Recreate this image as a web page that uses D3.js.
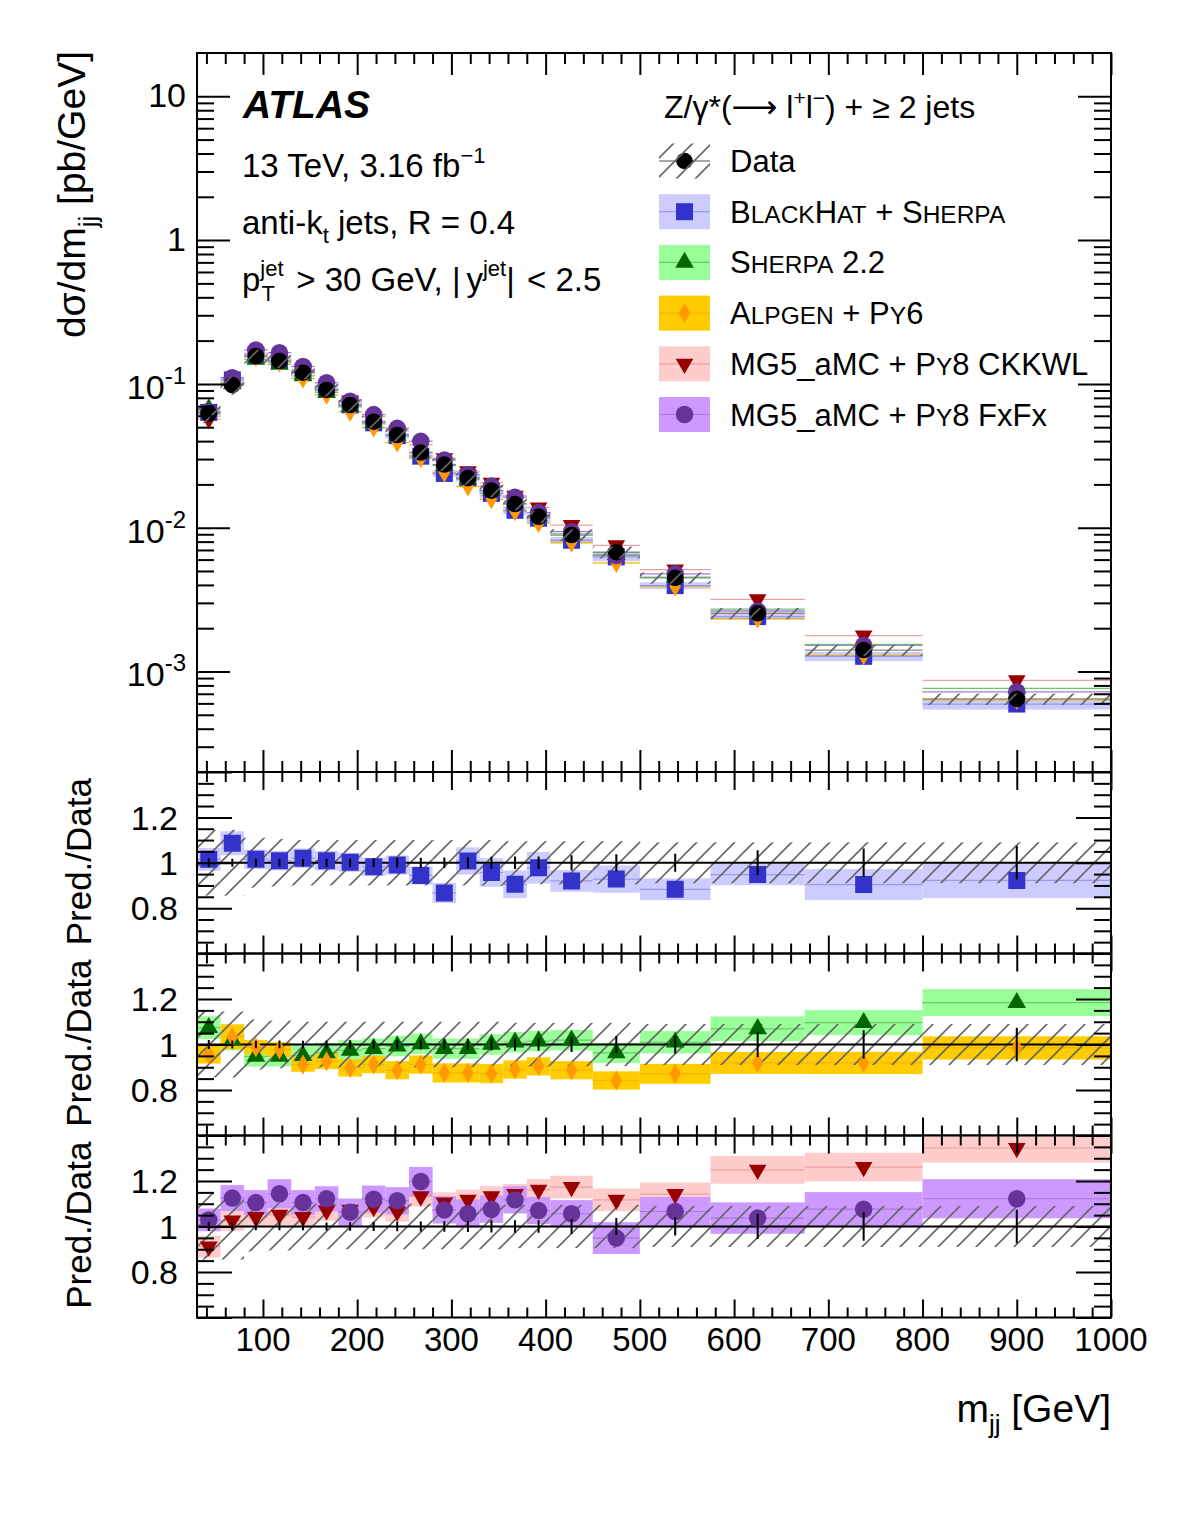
<!DOCTYPE html>
<html>
<head>
<meta charset="utf-8">
<script src="https://cdn.jsdelivr.net/npm/d3@7"></script>
<style>
body { margin: 0; background: #fff; }
svg text { font-family: "Liberation Sans", Arial, Helvetica, sans-serif; fill: #000; }
</style>
</head>
<body>
<svg id="chart" width="1182" height="1515"></svg>
<script>
// m_jj bin edges [GeV]
const binEdges = [30, 55, 80, 105, 130, 155, 180, 205, 230, 255, 280, 305, 330, 355, 380, 405, 450, 500, 575, 675, 800, 1000];
// measured cross section dsigma/dm_jj [pb/GeV]
const dataXsec = [0.0624, 0.0982, 0.156, 0.1442, 0.1196, 0.0907, 0.0713, 0.0546, 0.0441, 0.0333, 0.0275, 0.0221, 0.0181, 0.0146, 0.0119, 0.00889, 0.00675, 0.00448, 0.00254, 0.00141, 0.000644];
// relative stat (error bars) and total (hatched) uncertainties
const dataStat = [0.02, 0.018, 0.016, 0.016, 0.017, 0.018, 0.019, 0.02, 0.021, 0.022, 0.023, 0.024, 0.026, 0.027, 0.028, 0.033, 0.037, 0.04, 0.055, 0.063, 0.074];
const dataUnc = [0.145, 0.145, 0.11, 0.105, 0.1, 0.1, 0.1, 0.1, 0.1, 0.1, 0.1, 0.1, 0.1, 0.095, 0.095, 0.095, 0.095, 0.09, 0.09, 0.09, 0.09];

// prediction / data ratios and their band half-widths
const ratioBlackHat = [1.015, 1.086, 1.015, 1.009, 1.02, 1.009, 1.002, 0.982, 0.99, 0.944, 0.867, 1.008, 0.957, 0.905, 0.978, 0.92, 0.928, 0.883, 0.948, 0.904, 0.922];
const errBlackHat = [0.05, 0.053, 0.043, 0.043, 0.043, 0.043, 0.042, 0.04, 0.042, 0.04, 0.044, 0.06, 0.063, 0.061, 0.07, 0.048, 0.06, 0.048, 0.047, 0.068, 0.078];
const ratioSherpa = [1.074, 1.019, 0.948, 0.948, 0.951, 0.963, 0.974, 0.982, 0.993, 1.003, 0.982, 0.982, 1.0, 1.01, 1.015, 1.019, 0.963, 1.01, 1.069, 1.096, 1.184];
const errSherpa = [0.05, 0.045, 0.045, 0.045, 0.045, 0.045, 0.045, 0.045, 0.045, 0.045, 0.045, 0.045, 0.045, 0.045, 0.045, 0.045, 0.045, 0.049, 0.054, 0.055, 0.059];
const ratioAlpgen = [0.956, 1.034, 0.988, 0.978, 0.912, 0.926, 0.897, 0.912, 0.887, 0.912, 0.875, 0.875, 0.872, 0.89, 0.904, 0.887, 0.842, 0.871, 0.919, 0.919, 0.985];
const errAlpgen = [0.04, 0.055, 0.032, 0.032, 0.032, 0.034, 0.038, 0.038, 0.04, 0.04, 0.042, 0.042, 0.042, 0.04, 0.04, 0.04, 0.04, 0.044, 0.048, 0.049, 0.051];
const ratioCkkwl = [0.912, 1.026, 1.041, 1.051, 1.041, 1.07, 1.073, 1.085, 1.066, 1.132, 1.105, 1.117, 1.132, 1.142, 1.161, 1.173, 1.117, 1.142, 1.249, 1.261, 1.345];
const errCkkwl = [0.048, 0.045, 0.045, 0.045, 0.045, 0.045, 0.045, 0.045, 0.045, 0.045, 0.045, 0.045, 0.045, 0.045, 0.048, 0.05, 0.05, 0.051, 0.061, 0.063, 0.064];
const ratioFxfx = [1.029, 1.125, 1.105, 1.144, 1.105, 1.122, 1.063, 1.12, 1.113, 1.198, 1.073, 1.056, 1.076, 1.117, 1.07, 1.056, 0.949, 1.066, 1.037, 1.076, 1.122];
const errFxfx = [0.05, 0.057, 0.055, 0.064, 0.055, 0.055, 0.06, 0.06, 0.06, 0.064, 0.06, 0.06, 0.06, 0.06, 0.06, 0.06, 0.07, 0.064, 0.069, 0.075, 0.086];

const xMajorTicks = [100, 200, 300, 400, 500, 600, 700, 800, 900, 1000];
const ratioTickLabels = [0.8, 1, 1.2];
const mainTickLabels = [[10, '10', ''], [1, '1', ''], [0.1, '10', '-1'], [0.01, '10', '-2'], [0.001, '10', '-3']];

const models = [
    { ratio: ratioBlackHat, err: errBlackHat, panel: 0, symbol: d3.symbolSquare, size: 289, rot: 0, marker: '#3333cc', band: '#ccccff', line: '#9999ee',
      label: [['B', 1], ['LACK', 0], ['H', 1], ['AT', 0], [' + ', 1], ['S', 1], ['HERPA', 0]] },
    { ratio: ratioSherpa, err: errSherpa, panel: 1, symbol: d3.symbolTriangle, size: 150, rot: 0, marker: '#006600', band: '#99ff99', line: '#66cc66',
      label: [['S', 1], ['HERPA', 0], [' 2.2', 1]] },
    { ratio: ratioAlpgen, err: errAlpgen, panel: 1, symbol: d3.symbolDiamond, size: 115, rot: 0, marker: '#ff9900', band: '#ffcc00', line: '#f5b400',
      label: [['A', 1], ['LPGEN', 0], [' + ', 1], ['P', 1], ['Y', 0], ['6', 1]] },
    { ratio: ratioCkkwl, err: errCkkwl, panel: 2, symbol: d3.symbolTriangle, size: 135, rot: 180, marker: '#990000', band: '#ffcccc', line: '#ee9f9f',
      label: [['MG5_aMC + ', 1], ['P', 1], ['Y', 0], ['8 CKKWL', 1]] },
    { ratio: ratioFxfx, err: errFxfx, panel: 2, symbol: d3.symbolCircle, size: 240, rot: 0, marker: '#663399', band: '#cc99ff', line: '#aa77dd',
      label: [['MG5_aMC + ', 1], ['P', 1], ['Y', 0], ['8 FxFx', 1]] }
];

const svg = d3.select('#chart');
const left = 197, right = 1111;
const mainTop = 53, mainBottom = 772;
const ratioPanels = [[772, 953.5], [953.5, 1135.5], [1135.5, 1317.5]];

const x = d3.scaleLinear().domain([30, 1000]).range([left, right]);
const yMain = d3.scaleLog().domain([2e-4, 20]).range([mainBottom, mainTop]);
const centers = binEdges.slice(0, -1).map((lo, i) => (lo + binEdges[i + 1]) / 2);
const binX = i => x(binEdges[i]);
const binW = i => x(binEdges[i + 1]) - x(binEdges[i]);

const defs = svg.append('defs');
const hatch = defs.append('pattern').attr('id', 'hatch')
    .attr('patternUnits', 'userSpaceOnUse').attr('width', 19).attr('height', 19);
hatch.append('path').attr('d', 'M0,19 L19,0 M-4,4 L4,-4 M15,23 L23,15')
    .attr('stroke', '#666').attr('stroke-width', 1.6);

function addClip(id, top, bottom) {
    defs.append('clipPath').attr('id', id).append('rect')
        .attr('x', left).attr('y', top).attr('width', right - left).attr('height', bottom - top);
}

function tickSet(g, axisFn, scale, values, len, transform) {
    g.append('g').attr('transform', transform)
        .call(axisFn(scale).tickValues(values).tickSize(-len).tickSizeOuter(0).tickFormat(''))
        .call(a => a.select('.domain').remove())
        .selectAll('line').attr('stroke', '#000').attr('stroke-width', 2);
}

function drawXTicks(g, top, bottom, majorLen, minorLen) {
    const minor = d3.range(40, 1000, 20).filter(v => v % 100 !== 0);
    tickSet(g, d3.axisBottom, x, xMajorTicks, majorLen, `translate(0,${bottom})`);
    tickSet(g, d3.axisBottom, x, minor, minorLen, `translate(0,${bottom})`);
    tickSet(g, d3.axisTop, x, xMajorTicks, majorLen, `translate(0,${top})`);
    tickSet(g, d3.axisTop, x, minor, minorLen, `translate(0,${top})`);
}

function drawYTicks(g, scale, major, minor, majorLen, minorLen) {
    tickSet(g, d3.axisLeft, scale, major, majorLen, `translate(${left},0)`);
    tickSet(g, d3.axisLeft, scale, minor, minorLen, `translate(${left},0)`);
    tickSet(g, d3.axisRight, scale, major, majorLen, `translate(${right},0)`);
    tickSet(g, d3.axisRight, scale, minor, minorLen, `translate(${right},0)`);
}

function drawMarker(g, m, cx, cy) {
    g.append('path')
        .attr('d', d3.symbol().type(m.symbol).size(m.size)())
        .attr('transform', `translate(${cx},${cy}) rotate(${m.rot})`)
        .attr('fill', m.marker);
}

// ---------- main panel ----------
addClip('clip-main', mainTop, mainBottom);
const main = svg.append('g').attr('clip-path', 'url(#clip-main)');

const bh = models[0];
main.append('g').selectAll('rect').data(dataXsec).join('rect')
    .attr('x', (d, i) => binX(i)).attr('width', (d, i) => binW(i))
    .attr('y', (d, i) => yMain(d * (bh.ratio[i] + bh.err[i])))
    .attr('height', (d, i) => yMain(d * (bh.ratio[i] - bh.err[i])) - yMain(d * (bh.ratio[i] + bh.err[i])))
    .attr('fill', bh.band);

models.slice().reverse().forEach(m => {
    main.append('g').selectAll('line').data(dataXsec).join('line')
        .attr('x1', (d, i) => binX(i)).attr('x2', (d, i) => binX(i + 1))
        .attr('y1', (d, i) => yMain(d * m.ratio[i])).attr('y2', (d, i) => yMain(d * m.ratio[i]))
        .attr('stroke', m.line).attr('stroke-width', 1.3);
});
main.append('g').selectAll('line').data(dataXsec).join('line')
    .attr('x1', (d, i) => binX(i)).attr('x2', (d, i) => binX(i + 1))
    .attr('y1', d => yMain(d)).attr('y2', d => yMain(d))
    .attr('stroke', '#888').attr('stroke-width', 1.3);

models.forEach(m => {
    dataXsec.forEach((d, i) => drawMarker(main, m, x(centers[i]), yMain(d * m.ratio[i])));
});
main.append('g').selectAll('circle').data(dataXsec).join('circle')
    .attr('cx', (d, i) => x(centers[i])).attr('cy', d => yMain(d))
    .attr('r', 8.3).attr('fill', '#000');
main.append('g').selectAll('rect').data(dataXsec).join('rect')
    .attr('x', (d, i) => binX(i)).attr('width', (d, i) => binW(i))
    .attr('y', (d, i) => yMain(d * (1 + dataUnc[i])))
    .attr('height', (d, i) => yMain(d * (1 - dataUnc[i])) - yMain(d * (1 + dataUnc[i])))
    .attr('fill', 'url(#hatch)');

const mainAxes = svg.append('g');
const logMinor = [];
[1e-4, 1e-3, 1e-2, 1e-1, 1, 10].forEach(dec => {
    for (let k = 2; k <= 9; k++) {
        const v = dec * k;
        if (v > 2e-4 && v < 20) logMinor.push(v);
    }
});
drawYTicks(mainAxes, yMain, mainTickLabels.map(t => t[0]), logMinor, 33, 17);
drawXTicks(mainAxes, mainTop, mainBottom, 22, 11);
mainTickLabels.forEach(([v, base, sup]) => {
    const t = mainAxes.append('text')
        .attr('x', 186).attr('y', yMain(v) + (sup ? 15 : 11))
        .attr('text-anchor', 'end').attr('font-size', 34).text(base);
    if (sup) t.append('tspan').attr('dy', -15).attr('font-size', 24).text(sup);
});
mainAxes.append('rect').attr('x', left).attr('y', mainTop)
    .attr('width', right - left).attr('height', mainBottom - mainTop)
    .attr('fill', 'none').attr('stroke', '#000').attr('stroke-width', 2);

// ---------- ratio panels ----------
ratioPanels.forEach(([top, bottom], p) => {
    const yR = d3.scaleLinear().domain([0.6, 1.4]).range([bottom, top]);
    const id = `clip-r${p}`;
    addClip(id, top, bottom);
    const g = svg.append('g').attr('clip-path', `url(#${id})`);
    const inPanel = models.filter(m => m.panel === p);

    inPanel.forEach(m => {
        g.append('g').selectAll('rect').data(m.ratio).join('rect')
            .attr('x', (d, i) => binX(i)).attr('width', (d, i) => binW(i))
            .attr('y', (d, i) => yR(d + m.err[i]))
            .attr('height', (d, i) => yR(d - m.err[i]) - yR(d + m.err[i]))
            .attr('fill', m.band);
        g.append('g').selectAll('line').data(m.ratio).join('line')
            .attr('x1', (d, i) => binX(i)).attr('x2', (d, i) => binX(i + 1))
            .attr('y1', d => yR(d)).attr('y2', d => yR(d))
            .attr('stroke', m.line).attr('stroke-width', 1.2);
    });
    g.append('g').selectAll('rect').data(dataUnc).join('rect')
        .attr('x', (d, i) => binX(i)).attr('width', (d, i) => binW(i))
        .attr('y', d => yR(1 + d)).attr('height', d => yR(1 - d) - yR(1 + d))
        .attr('fill', 'url(#hatch)');
    g.append('line').attr('x1', left).attr('x2', right)
        .attr('y1', yR(1)).attr('y2', yR(1))
        .attr('stroke', '#000').attr('stroke-width', 2.2);
    inPanel.forEach(m => {
        m.ratio.forEach((d, i) => drawMarker(g, m, x(centers[i]), yR(d)));
    });
    g.append('g').selectAll('line').data(dataStat).join('line')
        .attr('x1', (d, i) => x(centers[i])).attr('x2', (d, i) => x(centers[i]))
        .attr('y1', d => yR(1 + d)).attr('y2', d => yR(1 - d))
        .attr('stroke', '#000').attr('stroke-width', 2);

    const axes = svg.append('g');
    const rMinor = d3.range(0.65, 1.4, 0.05).filter(v => Math.abs(v * 5 - Math.round(v * 5)) > 1e-6);
    drawYTicks(axes, yR, [0.6, 0.8, 1, 1.2, 1.4], rMinor, 35, 17);
    drawXTicks(axes, top, bottom, 18, 10);
    axes.selectAll('.rlabel').data(ratioTickLabels).join('text')
        .attr('x', 178).attr('y', d => yR(d)).attr('dy', '0.36em')
        .attr('text-anchor', 'end').attr('font-size', 34).text(d => d);
    axes.append('text')
        .attr('transform', `translate(91,${top + 6}) rotate(-90)`)
        .attr('text-anchor', 'end').attr('font-size', 35).text('Pred./Data');
    axes.append('rect').attr('x', left).attr('y', top)
        .attr('width', right - left).attr('height', bottom - top)
        .attr('fill', 'none').attr('stroke', '#000').attr('stroke-width', 2);

    if (p === 2) {
        axes.selectAll('.xlabel').data(xMajorTicks).join('text')
            .attr('x', d => x(d)).attr('y', bottom + 33)
            .attr('text-anchor', 'middle').attr('font-size', 33).text(d => d);
    }
});

// ---------- axis titles ----------
const yTitle = svg.append('text')
    .attr('transform', `translate(85,${mainTop - 2}) rotate(-90)`)
    .attr('text-anchor', 'end').attr('font-size', 39);
yTitle.append('tspan').text('dσ/dm');
yTitle.append('tspan').attr('dy', 12).attr('font-size', 26).text('jj');
yTitle.append('tspan').attr('dy', -12).text('  [pb/GeV]');

const xTitle = svg.append('text').attr('x', right).attr('y', 1422)
    .attr('text-anchor', 'end').attr('font-size', 39);
xTitle.append('tspan').text('m');
xTitle.append('tspan').attr('dy', 11).attr('font-size', 26).text('jj');
xTitle.append('tspan').attr('dy', -11).text(' [GeV]');

// ---------- labels ----------
svg.append('text').attr('x', 243).attr('y', 118)
    .attr('font-size', 39).attr('font-weight', 'bold').attr('font-style', 'italic').text('ATLAS');

const lumi = svg.append('text').attr('x', 242).attr('y', 177).attr('font-size', 33);
lumi.append('tspan').text('13 TeV, 3.16 fb');
lumi.append('tspan').attr('dy', -14).attr('font-size', 22).text('−1');

const jets = svg.append('text').attr('x', 242).attr('y', 234).attr('font-size', 33);
jets.append('tspan').text('anti-k');
jets.append('tspan').attr('dy', 9).attr('font-size', 22).text('t');
jets.append('tspan').attr('dy', -9).text(' jets, R = 0.4');

const cuts = svg.append('text').attr('x', 242).attr('y', 291).attr('font-size', 33);
cuts.append('tspan').text('p');
cuts.append('tspan').attr('dy', -15).attr('font-size', 22).text('jet');
cuts.append('tspan').attr('dx', -22).attr('dy', 25).attr('font-size', 22).text('T');
cuts.append('tspan').attr('dx', 12).attr('dy', -10).text(' > 30 GeV, ');
cuts.append('tspan').text('|');
cuts.append('tspan').attr('dx', 6).text('y');
cuts.append('tspan').attr('dy', -15).attr('font-size', 22).text('jet');
cuts.append('tspan').attr('dy', 15).text('|');
cuts.append('tspan').attr('dx', 3).text(' < 2.5');

// ---------- legend ----------
const legTitle = svg.append('text').attr('x', 664).attr('y', 118).attr('font-size', 32);
legTitle.append('tspan').text('Z/γ*(');
legTitle.append('tspan').attr('font-family', '"DejaVu Sans", sans-serif').attr('font-size', 32).text('⟶');
legTitle.append('tspan').text(' l');
legTitle.append('tspan').attr('dy', -13).attr('font-size', 21).text('+');
legTitle.append('tspan').attr('dy', 13).text('l');
legTitle.append('tspan').attr('dy', -13).attr('font-size', 21).text('−');
legTitle.append('tspan').attr('dy', 13).text(') + ≥ 2 jets');

const legRows = [161, 211.7, 262.4, 313.1, 363.8, 414.5];
const legBoxX = 659, legBoxW = 51, legBoxH = 35, legTextX = 730;
const legend = svg.append('g');

// data entry
legend.append('line').attr('x1', legBoxX).attr('x2', legBoxX + legBoxW)
    .attr('y1', legRows[0]).attr('y2', legRows[0]).attr('stroke', '#888').attr('stroke-width', 1.3);
legend.append('circle').attr('cx', legBoxX + legBoxW / 2).attr('cy', legRows[0]).attr('r', 8.3).attr('fill', '#000');
legend.append('rect').attr('x', legBoxX).attr('y', legRows[0] - legBoxH / 2)
    .attr('width', legBoxW).attr('height', legBoxH).attr('fill', 'url(#hatch)');
legend.append('text').attr('x', legTextX).attr('y', legRows[0] + 11).attr('font-size', 31).text('Data');

models.forEach((m, k) => {
    const cy = legRows[k + 1];
    legend.append('rect').attr('x', legBoxX).attr('y', cy - legBoxH / 2)
        .attr('width', legBoxW).attr('height', legBoxH).attr('fill', m.band);
    legend.append('line').attr('x1', legBoxX).attr('x2', legBoxX + legBoxW)
        .attr('y1', cy).attr('y2', cy).attr('stroke', m.line).attr('stroke-width', 1.2);
    drawMarker(legend, m, legBoxX + legBoxW / 2, cy);
    const t = legend.append('text').attr('x', legTextX).attr('y', cy + 11).attr('font-size', 31);
    m.label.forEach(([s, big]) => {
        t.append('tspan').attr('font-size', big ? 31 : 24.5).text(s);
    });
});
</script>
</body>
</html>
